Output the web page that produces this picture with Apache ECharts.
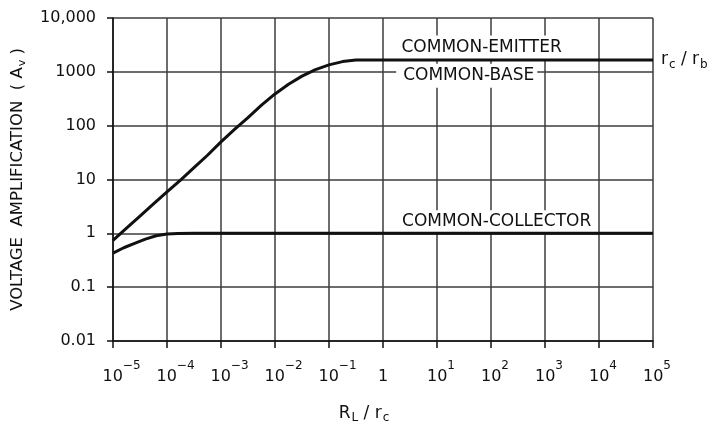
<!DOCTYPE html>
<html>
<head>
<meta charset="utf-8">
<script src="https://cdn.jsdelivr.net/npm/echarts/dist/echarts.min.js"></script>
<style>html,body{margin:0;padding:0;background:#fff;}#c{width:708px;height:429px;}</style>
</head>
<body>
<div id="c"></div>
<script>
// ---- data (R_L / r_c vs voltage amplification) ----
const emitterBaseX = [1e-5, 1.78e-5, 3.16e-5, 5.62e-5, 1e-4, 1.78e-4, 3.16e-4, 5.62e-4, 1e-3, 1.78e-3, 3.16e-3, 5.62e-3,
                      1e-2, 1.78e-2, 3.16e-2, 5.62e-2, 0.1, 0.178, 0.316, 1e5];
const emitterBaseY = [0.74, 1.245, 2.09, 3.51, 5.89, 9.77, 16.6, 28.2, 50.1, 85.1, 141, 240,
                      389, 589, 832, 1096, 1349, 1549, 1660, 1660];
const collectorX = [1e-5, 1.58e-5, 2.51e-5, 3.98e-5, 6.31e-5, 1e-4, 1.58e-4, 3.16e-4, 1e5];
const collectorY = [0.43, 0.54, 0.65, 0.78, 0.9, 0.97, 0.995, 1.0, 1.0];
const yTickLabels = ['0.01', '0.1', '1', '10', '100', '1000', '10,000'];
const xTickExponents = [-5, -4, -3, -2, -1, 0, 1, 2, 3, 4, 5];
const curveLabels = ['COMMON-EMITTER', 'COMMON-BASE', 'COMMON-COLLECTOR'];

const FONT = 'DejaVu Sans';
const INK = '#111';
const GRID = '#3c3c3c';

const chart = echarts.init(document.getElementById('c'), null, {renderer: 'canvas'});

function xLabel(v) {
  const e = Math.round(Math.log10(v));
  if (xTickExponents.indexOf(e) < 0) return '';
  if (e === 0) return '{b|1}{z| }';
  const sup = (e < 0 ? '\u2212' : '') + Math.abs(e);
  const padStyle = e < 0 ? 'pn' : 'pp';
  return '{' + padStyle + '| }{b|10}{s|' + sup + '}';
}
function yLabel(v) {
  const e = Math.round(Math.log10(v));
  return yTickLabels[e + 2] || '';
}

const boxLabel = (padding) => ({
  show: true, position: 'inside', formatter: '{b}',
  color: INK, fontFamily: FONT, fontSize: 17, lineHeight: 18,
  backgroundColor: '#fff', padding: padding
});

const option = {
  animation: false,
  backgroundColor: '#fff',
  grid: {left: 111, right: 55, top: 18, bottom: 87},
  xAxis: {
    type: 'log', logBase: 10, min: 1e-5, max: 1e5, interval: 1,
    name: '{b|R}{s|L}{b| / r}{s|c}',
    nameLocation: 'middle', nameGap: 64,
    nameTextStyle: {
      padding: [0, 38, 0, 0],
      rich: {
        b: {fontFamily: FONT, fontSize: 17, color: INK, lineHeight: 18},
        s: {fontFamily: FONT, fontSize: 12, color: INK, lineHeight: 12, padding: [8, 0, 0, 1]}
      }
    },
    axisLine: {show: true, lineStyle: {color: INK, width: 1.5}},
    axisTick: {show: true, length: 7, lineStyle: {color: INK, width: 1.5}},
    minorTick: {show: false},
    splitLine: {show: true, lineStyle: {color: GRID, width: 1.5}},
    axisLabel: {
      margin: 28, formatter: xLabel, showMinLabel: true, showMaxLabel: true,
      rich: {
        b: {fontFamily: FONT, fontSize: 16, color: INK, lineHeight: 16},
        s: {fontFamily: FONT, fontSize: 12, color: INK, lineHeight: 12, padding: [0, 0, 22, 0]},
        z: {fontFamily: FONT, fontSize: 12, lineHeight: 12, padding: [0, 0, 22, 0], width: 0},
        pn: {fontFamily: FONT, fontSize: 12, width: 17},
        pp: {fontFamily: FONT, fontSize: 12, width: 8}
      }
    }
  },
  yAxis: {
    type: 'log', logBase: 10, min: 0.01, max: 10000, interval: 1,
    name: '{t|VOLTAGE  AMPLIFICATION  ( A}{v|v}{t| )}',
    nameLocation: 'middle', nameGap: 86, nameRotate: 90,
    nameTextStyle: {
      rich: {
        t: {fontFamily: FONT, fontSize: 16.5, color: INK, lineHeight: 18},
        v: {fontFamily: FONT, fontSize: 11, color: INK, lineHeight: 11, padding: [9, 0, 0, 1]}
      }
    },
    axisLine: {show: true, lineStyle: {color: INK, width: 1.5}},
    axisTick: {show: true, length: 6, lineStyle: {color: INK, width: 1.5}},
    minorTick: {show: false},
    splitLine: {show: true, lineStyle: {color: GRID, width: 1.5}},
    axisLabel: {
      margin: 17, formatter: yLabel, showMinLabel: true, showMaxLabel: true,
      fontFamily: FONT, fontSize: 16, color: INK
    }
  },
  series: [
    {
      type: 'line',
      data: emitterBaseX.map((x, i) => [x, emitterBaseY[i]]),
      smooth: false, showSymbol: false, symbol: 'none',
      lineStyle: {color: INK, width: 3, join: 'round'}, z: 3,
      endLabel: {
        show: true, distance: 8,
        formatter: '{r|r}{s|c}{r| / r}{s|b}',
        rich: {
          r: {fontFamily: FONT, fontSize: 17, color: INK, lineHeight: 18},
          s: {fontFamily: FONT, fontSize: 12, color: INK, lineHeight: 12, padding: [9, 0, 0, 1]}
        }
      },
      markPoint: {
        z: 2,
        symbol: 'rect', symbolSize: 1, itemStyle: {color: 'rgba(0,0,0,0)'},
        data: [
          {name: curveLabels[0], coord: [67, 2820], label: boxLabel([3, 7, 3, 7])},
          {name: curveLabels[1], coord: [35.5, 850], label: boxLabel([3, 3, 3, 7])}
        ]
      }
    },
    {
      type: 'line',
      data: collectorX.map((x, i) => [x, collectorY[i]]),
      smooth: false, showSymbol: false, symbol: 'none',
      lineStyle: {color: INK, width: 3, join: 'round'}, z: 3,
      markPoint: {
        z: 2,
        symbol: 'rect', symbolSize: 1, itemStyle: {color: 'rgba(0,0,0,0)'},
        data: [
          {name: curveLabels[2], coord: [117, 1.64], label: boxLabel([3, 3, 2, 7])}
        ]
      }
    }
  ]
};
chart.setOption(option);
</script>
</body>
</html>
